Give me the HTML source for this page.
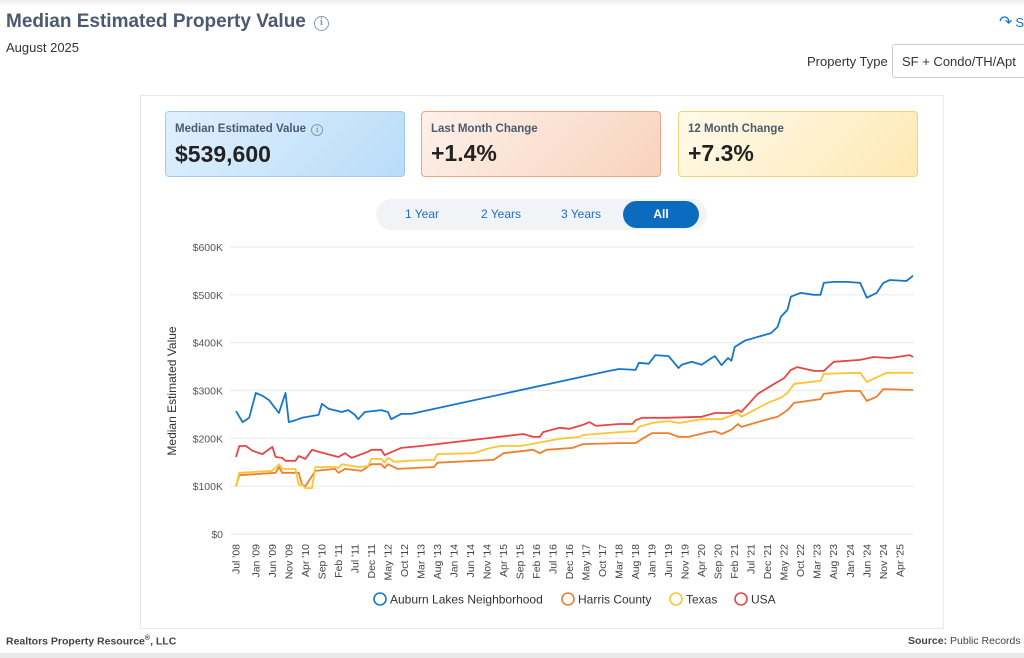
<!DOCTYPE html>
<html><head><meta charset="utf-8">
<style>
*{box-sizing:border-box;margin:0;padding:0}
body{width:1024px;height:658px;background:#fff;font-family:"Liberation Sans",sans-serif;position:relative;overflow:hidden;color:#333}
.abs{position:absolute}
.topshade{left:0;top:0;width:1024px;height:6px;background:linear-gradient(#ececec,#fff)}
.title{left:6px;top:11px;font-size:19px;font-weight:bold;color:#4b5a6e;white-space:nowrap}
.info{display:inline-block;width:15px;height:15px;border:1.5px solid #8a96a8;border-radius:50%;font-size:10px;line-height:12px;text-align:center;color:#8a96a8;font-weight:bold;vertical-align:2px;margin-left:8px;font-family:"Liberation Serif",serif}
.sub{left:6px;top:40px;font-size:13px;color:#333}
.ptlabel{left:807px;top:54px;font-size:13px;color:#333}
.select{left:892px;top:44px;width:140px;height:34px;border:1px solid #ccc;border-radius:3px;font-size:13px;padding:9px 0 0 9px;color:#333}
.card{left:140px;top:95px;width:804px;height:534px;border:1px solid #e6e8ec}
.stat{top:111px;width:240px;height:66px;border-radius:4px;padding:11px 0 0 9px}
.stat .l{font-size:11.5px;font-weight:bold;color:#4b5a6e}
.stat .v{font-size:23px;font-weight:bold;color:#222;margin-top:5px}
.tabs{left:376px;top:199px;width:331px;height:31px;background:#f1f3f6;border-radius:16px}
.tab{top:199px;height:31px;font-size:12px;color:#1d6fbf;line-height:31px;text-align:center}
.all{left:623px;top:201px;width:76px;height:27px;background:#0b6cbf;color:#fff;border-radius:14px;font-size:12px;font-weight:bold;line-height:27px;text-align:center}
.foot1{left:6px;top:635px;font-size:10.5px;font-weight:bold;color:#444}
.foot2{left:908px;top:635px;font-size:10.5px;color:#444;white-space:nowrap}
.botbar{left:0;top:653px;width:1024px;height:5px;background:#e9e9e9}
</style></head><body>
<div class="abs topshade"></div>
<div class="abs title">Median Estimated Property Value<span class="info">i</span></div>
<div class="abs sub">August 2025</div>
<div class="abs" style="left:999px;top:12px;font-size:16px;color:#1a73c7">&#8631;<span style="font-size:13px;margin-left:3px">S</span></div>
<div class="abs ptlabel">Property Type</div>
<div class="abs select">SF + Condo/TH/Apt</div>
<div class="abs card"></div>
<div class="abs stat" style="left:165px;background:linear-gradient(135deg,#e0f0fd,#b9dcf8);border:1px solid #9ccdf0"><div class="l">Median Estimated Value <span class="info" style="width:12px;height:12px;font-size:8px;line-height:9px;margin-left:2px;vertical-align:0">i</span></div><div class="v">$539,600</div></div>
<div class="abs stat" style="left:421px;background:linear-gradient(135deg,#fdf1ea,#f8d2bd);border:1px solid #eca684"><div class="l">Last Month Change</div><div class="v">+1.4%</div></div>
<div class="abs stat" style="left:678px;background:linear-gradient(135deg,#fffaea,#fde9b4);border:1px solid #f2d377"><div class="l">12 Month Change</div><div class="v">+7.3%</div></div>
<div class="abs tabs"></div>
<div class="abs tab" style="left:392px;width:60px">1 Year</div>
<div class="abs tab" style="left:470px;width:62px">2 Years</div>
<div class="abs tab" style="left:550px;width:62px">3 Years</div>
<div class="abs all">All</div>
<svg class="abs" style="left:0;top:0" width="1024" height="658" id="chart"></svg>
<div class="abs foot1">Realtors Property Resource<sup style="font-size:7px">®</sup>, LLC</div>
<div class="abs foot2"><b>Source:</b> Public Records a</div>
<div class="abs botbar"></div>
<script>
const yTicks=[0,100,200,300,400,500,600];
const yTickLabels=["$0","$100K","$200K","$300K","$400K","$500K","$600K"];
const xTickMonths=[0,6,11,16,21,26,31,36,41,46,51,56,61,66,71,76,81,86,91,96,101,106,111,116,121,126,131,136,141,146,151,156,161,166,171,176,181,186,191,196,201];
const xTickLabels=["Jul '08","Jan '09","Jun '09","Nov '09","Apr '10","Sep '10","Feb '11","Jul '11","Dec '11","May '12","Oct '12","Mar '13","Aug '13","Jan '14","Jun '14","Nov '14","Apr '15","Sep '15","Feb '16","Jul '16","Dec '16","May '17","Oct '17","Mar '18","Aug '18","Jan '19","Jun '19","Nov '19","Apr '20","Sep '20","Feb '21","Jul '21","Dec '21","May '22","Oct '22","Mar '23","Aug '23","Jan '24","Jun '24","Nov '24","Apr '25"];
// months since Jul 2008, values in $K
const auburnMonths=[0,2,4,6,8,10,13,15,16,18,20,25,26,28,32,34,36,37,39,44,46,47,50,53,113,116,121,122,125,127,131,134,135,138,141,144,145,147,149,150,151,154,158,162,164,165,167,168,171,175,177,178,181,185,189,191,194,196,198,203,205];
const auburnValues=[257,234,243,295,289,280,253,295,234,238,243,249,272,262,255,259,249,240,255,259,255,240,251,251,341,345,343,358,356,374,372,347,354,360,354,368,372,353,368,362,391,404,412,420,433,454,469,496,504,500,500,525,527,527,525,494,504,525,531,529,540];
const harrisMonths=[0,1,12,13,14,19,20,21,24,30,31,33,38,41,44,45,46,49,60,61,78,81,90,92,94,102,105,116,121,123,126,131,134,137,143,145,147,150,152,153,159,164,167,169,177,178,185,189,191,194,196,205];
const harrisValues=[100,123,128,140,128,128,103,100,132,136,128,136,132,146,146,138,146,136,140,149,155,169,176,169,176,180,188,190,190,199,211,211,203,203,213,215,209,218,230,224,236,245,259,274,282,293,299,299,278,287,303,301];
const texasMonths=[0,1,11,13,14,18,19,20,21,23,24,30,31,32,37,40,41,44,45,46,48,52,60,61,72,76,80,86,91,98,104,105,116,121,122,126,131,134,141,147,152,153,161,165,167,169,177,178,189,191,197,205];
const texasValues=[100,128,132,146,136,136,103,103,96,96,140,140,138,146,140,142,157,157,149,159,151,153,155,167,169,178,184,184,190,199,203,207,213,215,224,232,236,232,240,240,253,245,274,285,295,314,320,335,337,318,337,337];
const usaMonths=[0,1,3,5,8,11,12,14,15,18,19,21,23,25,31,33,35,40,41,44,45,50,56,87,90,92,93,98,101,105,107,109,116,120,121,123,130,141,145,150,152,153,158,163,166,168,170,175,178,181,189,193,198,204,205];
const usaValues=[161,184,184,174,167,182,161,159,153,153,163,157,176,172,161,169,159,172,176,176,165,180,184,209,203,203,213,222,220,228,234,226,230,230,238,243,243,245,253,253,259,255,293,314,326,343,349,341,341,360,364,370,368,374,370];

const svg=document.getElementById('chart');
const NS='http://www.w3.org/2000/svg';
const X0=236,X1=913,M1=205,Y0=534,Y1=247,V1=600;
const xs=m=>X0+(X1-X0)*m/M1;
const ys=v=>Y0-(Y0-Y1)*v/V1;
function mk(t,a){const e=document.createElementNS(NS,t);for(const k in a)e.setAttribute(k,a[k]);svg.appendChild(e);return e;}
yTicks.forEach((v,i)=>{
  const g=mk('line',{x1:230,x2:914,y1:ys(v),y2:ys(v),stroke:'#ececec','stroke-width':1.2});
  
  
  const t=mk('text',{x:223,y:ys(v)+4,'text-anchor':'end','font-size':10.5,fill:'#555','font-family':'Liberation Sans'});
  t.textContent=yTickLabels[i];
  
  
});
xTickMonths.forEach((m,i)=>{
  const x=xs(m)+3.5;
  const t=mk('text',{x:0,y:0,transform:`translate(${x},544) rotate(-90)`,'text-anchor':'end','font-size':10.5,fill:'#444','font-family':'Liberation Sans'});
  t.textContent=xTickLabels[i];
  
  
});
const yt=mk('text',{x:0,y:0,transform:'translate(176,391) rotate(-90)','text-anchor':'middle','font-size':12,fill:'#333','font-family':'Liberation Sans'});
yt.textContent='Median Estimated Value';


const series=[[harrisMonths,harrisValues,'#ee7f2d','harris-county-line'],[texasMonths,texasValues,'#fcc531','texas-line'],[usaMonths,usaValues,'#e84646','usa-line'],[auburnMonths,auburnValues,'#1776c9','auburn-lakes-line']];
series.forEach(s=>{
  const d=s[0].map((m,i)=>(i?'L':'M')+xs(m).toFixed(1)+','+ys(s[1][i]).toFixed(1)).join('');
  const p=mk('path',{d:d,fill:'none',stroke:s[2],'stroke-width':1.8,'stroke-linejoin':'round'});
  
  
});
const legend=[["Auburn Lakes Neighborhood",'#1776c9',380],["Harris County",'#ee7f2d',568],["Texas",'#fcc531',676],["USA",'#e84646',741]];
legend.forEach(l=>{
  const c=mk('circle',{cx:l[2],cy:599,r:6,fill:'none',stroke:l[1],'stroke-width':1.6});
  
  
  const t=mk('text',{x:l[2]+10,y:603.5,'font-size':12,fill:'#333','font-family':'Liberation Sans'});
  t.textContent=l[0];
  
  
});
</script>
</body></html>
